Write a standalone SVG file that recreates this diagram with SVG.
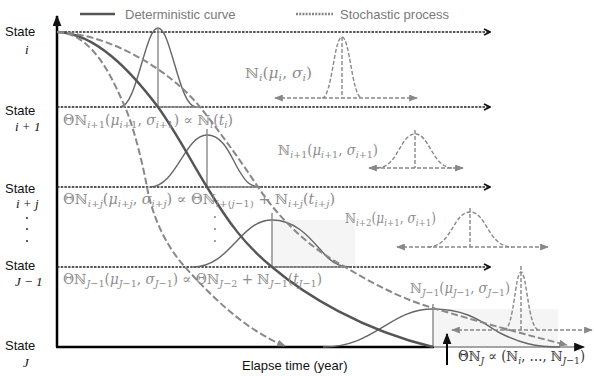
<svg xmlns="http://www.w3.org/2000/svg" width="594" height="376" viewBox="0 0 594 376">
<defs>
<style>
.lbl{font-family:"Liberation Sans",Arial,sans-serif;font-size:13px;fill:#111}
.sub{font-family:"Liberation Serif","DejaVu Serif",serif;font-style:italic;font-size:13px;fill:#111}
.leg{font-family:"Liberation Sans",Arial,sans-serif;font-size:13px;fill:#7a7a7a}
.m{font-family:"DejaVu Serif","Liberation Serif",serif;font-size:14px;fill:#8c8c8c}
.md{fill:#333}
.it{font-style:italic}
.s{font-size:10px}
.dot{stroke:#222;stroke-width:1.4;stroke-dasharray:2.5 1.2;fill:none}
.det{stroke:#555;stroke-width:2.4;fill:none}
.sto{stroke:#888;stroke-width:2;stroke-dasharray:7 3;fill:none}
.gau{stroke:#666;stroke-width:1.4;fill:none}
.gv{stroke:#888;stroke-width:1.4;fill:none}
.dg{stroke:#888;stroke-width:1.4;stroke-dasharray:4 2;fill:none}
.shade{fill:#f5f5f5}
</style>
<marker id="chev" viewBox="0 0 8 8" refX="7" refY="4" markerWidth="8" markerHeight="8" markerUnits="userSpaceOnUse" orient="auto">
<path d="M1,1 L7,4 L1,7" fill="none" stroke="#111" stroke-width="1.6"/>
</marker>
<marker id="ga" viewBox="0 0 10 8" refX="9" refY="4" markerWidth="9" markerHeight="7" markerUnits="userSpaceOnUse" orient="auto-start-reverse">
<path d="M0,0 L10,4 L0,8 z" fill="#888"/>
</marker>
<marker id="ba" viewBox="0 0 10 8" refX="9" refY="4" markerWidth="11" markerHeight="9" markerUnits="userSpaceOnUse" orient="auto">
<path d="M0,0 L10,4 L0,8 z" fill="#111"/>
</marker>
</defs>
<rect width="594" height="376" fill="#fff"/>

<g id="shades">
<rect class="shade" x="272" y="220" width="83" height="47"/>
<rect class="shade" x="433" y="309" width="125" height="38"/>
</g>

<g id="axes">
<line x1="57" y1="347" x2="57" y2="16" stroke="#000" stroke-width="2.5" marker-end="url(#ba)"/>
<line x1="433" y1="347" x2="584" y2="347" stroke="#888" stroke-width="1.4" marker-end="url(#ba)"/>
<line x1="56" y1="347" x2="434" y2="347" stroke="#000" stroke-width="2.5"/>
</g>

<g id="state-lines">
<line class="dot" x1="57" y1="32" x2="490" y2="32" marker-end="url(#chev)"/>
<line class="dot" x1="57" y1="107" x2="490" y2="107" marker-end="url(#chev)"/>
<line class="dot" x1="57" y1="187" x2="490" y2="187" marker-end="url(#chev)"/>
<line class="dot" x1="57" y1="267" x2="490" y2="267" marker-end="url(#chev)"/>
</g>

<g id="state-labels">
<text class="lbl" x="5" y="36">State</text><text class="sub" x="25" y="54">i</text>
<text class="lbl" x="5" y="115">State</text><text class="sub" x="15" y="131">i + 1</text>
<text class="lbl" x="5" y="193">State</text><text class="sub" x="16" y="208">i + j</text>
<g fill="#111"><circle cx="27" cy="218" r="0.9"/><circle cx="27" cy="229" r="0.9"/><circle cx="27" cy="241" r="0.9"/></g>
<text class="lbl" x="5" y="270">State</text><text class="sub" x="15" y="286">J − 1</text>
<text class="lbl" x="5" y="350">State</text><text class="sub" x="23" y="367">J</text>
<text class="lbl" x="242" y="370" font-size="13.5">Elapse time (year)</text>
</g>

<g id="legend">
<line x1="80" y1="14" x2="115" y2="14" class="det" stroke-width="3"/>
<text class="leg" x="125" y="19">Deterministic curve</text>
<line x1="296" y1="14" x2="333" y2="14" stroke="#888" stroke-width="2.5" stroke-dasharray="2 1.2"/>
<text class="leg" x="340" y="19">Stochastic process</text>
</g>

<g id="gaussians">
<path class="gau" d="M120,107 C137,107 145,28 158,28 C171,28 179,107 196,107"/>
<line class="gv" x1="158" y1="28" x2="158" y2="107"/>
<line class="gv" x1="158" y1="107" x2="200" y2="107"/>
<path class="gau" d="M150,187 C176,187 185,135 207,135 C225,135 232,160 240,172 C246,182 250,187 262,187"/>
<line class="gv" x1="207" y1="129" x2="207" y2="187"/>
<line class="gv" x1="207" y1="187" x2="258" y2="187"/>
<path class="gau" d="M193,267 C230,267 240,220 272,220 C300,220 315,245 328,258 C336,265 342,267 352,267"/>
<line class="gv" x1="272" y1="213" x2="272" y2="267"/>
<line class="gv" x1="272" y1="267" x2="345" y2="267"/>
<path class="gau" d="M323,347 C375,347 390,309 433,309 C470,309 485,325 500,333 C520,343 535,347 560,347"/>
<line class="gv" x1="433" y1="304" x2="433" y2="347"/>
</g>

<g id="curves">
<path class="det" d="M57,32 C95,33 130,70 158,107 C178,135 192,163 207,187 C228,222 245,245 272,267 C305,295 362,330 433,347"/>
<path class="sto" d="M57,32 C95,33 115,85 125,107 C133,125 142,160 147,187 C152,215 165,245 185,267 C210,295 245,330 285,346" marker-end="url(#ga)"/>
<path class="sto" d="M57,32 C110,34 170,70 200,107 C220,132 240,160 258,187 C280,220 310,248 345,267 C375,285 405,300 433,308 C480,322 530,336 567,345" marker-end="url(#ga)"/>
</g>

<g id="dist-i">
<path class="dg" d="M322,98 C332,98 334,37 342,37 C350,37 352,98 362,98"/>
<line class="dg" x1="342" y1="37" x2="342" y2="98"/>
<line class="dg" x1="275" y1="98" x2="417" y2="98" marker-start="url(#ga)" marker-end="url(#ga)"/>
<text class="m" x="245" y="78" textLength="67" lengthAdjust="spacingAndGlyphs">ℕ<tspan class="s it" dy="3">i</tspan><tspan dy="-3">(</tspan><tspan class="it">μ</tspan><tspan class="s it" dy="3">i</tspan><tspan dy="-3">, </tspan><tspan class="it">σ</tspan><tspan class="s it" dy="3">i</tspan><tspan dy="-3">)</tspan></text>
</g>

<g id="dist-i1">
<path class="dg" d="M377,168 C398,168 400,134 415,134 C430,134 432,168 453,168"/>
<line class="dg" x1="415" y1="130" x2="415" y2="168"/>
<line class="dg" x1="369" y1="168" x2="463" y2="168" marker-start="url(#ga)" marker-end="url(#ga)"/>
<text class="m" x="278" y="155" textLength="100" lengthAdjust="spacingAndGlyphs">ℕ<tspan class="s" dy="3"><tspan class="it">i</tspan>+1</tspan><tspan dy="-3">(</tspan><tspan class="it">μ</tspan><tspan class="s" dy="3"><tspan class="it">i</tspan>+1</tspan><tspan dy="-3">, </tspan><tspan class="it">σ</tspan><tspan class="s" dy="3"><tspan class="it">i</tspan>+1</tspan><tspan dy="-3">)</tspan></text>
</g>

<g id="dist-i2">
<path class="dg" d="M428,247 C452,247 453,212 470,212 C487,212 488,247 512,247"/>
<line class="dg" x1="470" y1="208" x2="470" y2="247"/>
<line class="dg" x1="397" y1="247" x2="548" y2="247" marker-start="url(#ga)" marker-end="url(#ga)"/>
<text class="m" x="345" y="223" textLength="91" lengthAdjust="spacingAndGlyphs">ℕ<tspan class="s" dy="3"><tspan class="it">i</tspan>+2</tspan><tspan dy="-3">(</tspan><tspan class="it">μ</tspan><tspan class="s" dy="3"><tspan class="it">i</tspan>+1</tspan><tspan dy="-3">, </tspan><tspan class="it">σ</tspan><tspan class="s" dy="3"><tspan class="it">i</tspan>+1</tspan><tspan dy="-3">)</tspan></text>
</g>

<g id="dist-J1">
<path class="dg" d="M504,330 C514,330 515,272 521,272 C527,272 528,330 539,330"/>
<line class="dg" x1="521" y1="266" x2="521" y2="330"/>
<line class="dg" x1="452" y1="330" x2="592" y2="330" marker-start="url(#ga)" marker-end="url(#ga)"/>
<text class="m" x="410" y="293" textLength="100" lengthAdjust="spacingAndGlyphs">ℕ<tspan class="s" dy="3"><tspan class="it">J</tspan>−1</tspan><tspan dy="-3">(</tspan><tspan class="it">μ</tspan><tspan class="s" dy="3"><tspan class="it">J</tspan>−1</tspan><tspan dy="-3">, </tspan><tspan class="it">σ</tspan><tspan class="s" dy="3"><tspan class="it">J</tspan>−1</tspan><tspan dy="-3">)</tspan></text>
</g>

<g id="formulas">
<text class="m" x="63" y="125" textLength="170" lengthAdjust="spacingAndGlyphs">Θℕ<tspan class="s" dy="3"><tspan class="it">i</tspan>+1</tspan><tspan dy="-3">(</tspan><tspan class="it">μ</tspan><tspan class="s" dy="3"><tspan class="it">i</tspan>+1</tspan><tspan dy="-3">, </tspan><tspan class="it">σ</tspan><tspan class="s" dy="3"><tspan class="it">i</tspan>+1</tspan><tspan dy="-3">) ∝ ℕ</tspan><tspan class="s it" dy="3">i</tspan><tspan dy="-3">(</tspan><tspan class="it">t</tspan><tspan class="s it" dy="3">i</tspan><tspan dy="-3">)</tspan></text>
<text class="m" x="63" y="204" textLength="272" lengthAdjust="spacingAndGlyphs">Θℕ<tspan class="s it" dy="3">i+j</tspan><tspan dy="-3">(</tspan><tspan class="it">μ</tspan><tspan class="s it" dy="3">i+j</tspan><tspan dy="-3">, </tspan><tspan class="it">σ</tspan><tspan class="s it" dy="3">i+j</tspan><tspan dy="-3">) ∝ Θℕ</tspan><tspan class="s" dy="3"><tspan class="it">i</tspan>+(<tspan class="it">j</tspan>−1)</tspan><tspan dy="-3"> + ℕ</tspan><tspan class="s it" dy="3">i+j</tspan><tspan dy="-3">(</tspan><tspan class="it">t</tspan><tspan class="s it" dy="3">i+j</tspan><tspan dy="-3">)</tspan></text>
<g fill="#777"><circle cx="215" cy="217" r="0.9"/><circle cx="215" cy="229" r="0.9"/><circle cx="215" cy="241" r="0.9"/></g>
<text class="m" x="63" y="284" textLength="259" lengthAdjust="spacingAndGlyphs">Θℕ<tspan class="s" dy="3"><tspan class="it">J</tspan>−1</tspan><tspan dy="-3">(</tspan><tspan class="it">μ</tspan><tspan class="s" dy="3"><tspan class="it">J</tspan>−1</tspan><tspan dy="-3">, </tspan><tspan class="it">σ</tspan><tspan class="s" dy="3"><tspan class="it">J</tspan>−1</tspan><tspan dy="-3">) ∝ Θℕ</tspan><tspan class="s" dy="3"><tspan class="it">J</tspan>−2</tspan><tspan dy="-3"> + ℕ</tspan><tspan class="s" dy="3"><tspan class="it">J</tspan>−1</tspan><tspan dy="-3">(</tspan><tspan class="it">t</tspan><tspan class="s" dy="3"><tspan class="it">J</tspan>−1</tspan><tspan dy="-3">)</tspan></text>
</g>

<g id="result">
<line x1="447" y1="365" x2="447" y2="334" stroke="#000" stroke-width="2" marker-end="url(#ba)"/>
<text class="m md" x="458" y="361" textLength="127" lengthAdjust="spacingAndGlyphs">Θℕ<tspan class="s it" dy="3">J</tspan><tspan dy="-3"> ∝ (ℕ</tspan><tspan class="s it" dy="3">i</tspan><tspan dy="-3">, …, ℕ</tspan><tspan class="s" dy="3"><tspan class="it">J</tspan>−1</tspan><tspan dy="-3">)</tspan></text>
</g>
</svg>
